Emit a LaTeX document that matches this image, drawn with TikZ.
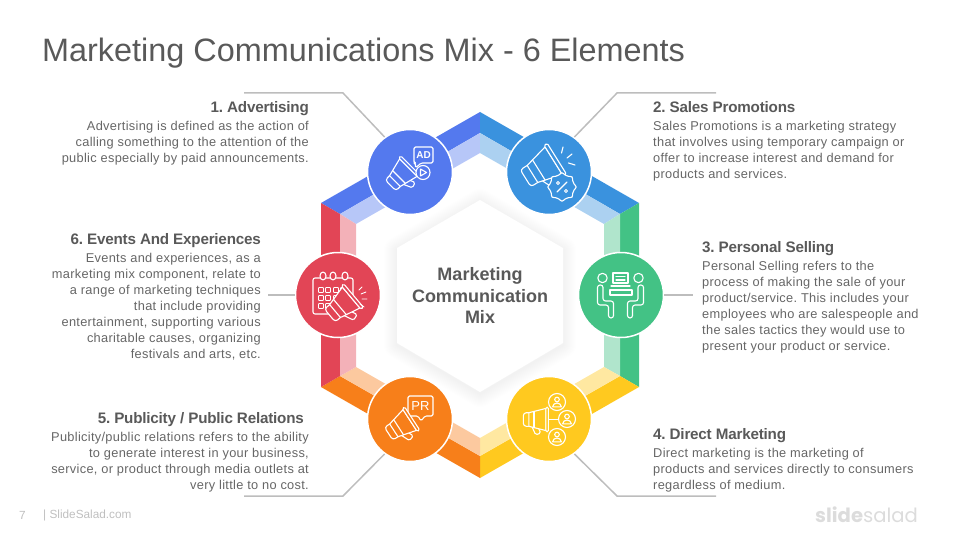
\documentclass[tikz,border=0pt]{standalone}
\usepackage{fontspec}
\setmainfont{Liberation Sans}
\newfontfamily\bodyfont[LetterSpace=2.4]{Liberation Sans}
\newfontfamily\namefont[LetterSpace=-1.3]{Liberation Sans}
\newfontfamily\logofont{Poppins}
\usetikzlibrary{positioning}
\definecolor{inkgray}{HTML}{595959}
\definecolor{bodygray}{HTML}{666666}
\definecolor{leadergray}{HTML}{BDBDBD}
\definecolor{footgray}{HTML}{BFBFBF}
\definecolor{logogray}{HTML}{DCDCDC}
\definecolor{advertblue}{HTML}{5479EE}
\definecolor{salesblue}{HTML}{3A92DE}
\definecolor{sellgreen}{HTML}{43C285}
\definecolor{directyellow}{HTML}{FFC91F}
\definecolor{publicorange}{HTML}{F77F1A}
\definecolor{eventred}{HTML}{E24556}
\frenchspacing
\tikzset{
	badge/.style={circle,draw=white,line width=1.5pt,minimum size=85pt,inner sep=0pt},
	leader/.style={draw=leadergray,line width=1.5pt},
	iconline/.style={draw=white,line width=1.1pt,line join=round,line cap=round},
	icontext/.style={text=white,inner sep=0pt,font=\bfseries\fontsize{10}{10}\selectfont},
	nameright/.style={anchor=east,inner sep=0pt,text=inkgray,text height=12pt,text depth=3pt,font=\namefont\bfseries\fontsize{15.2}{19}\selectfont},
	nameleft/.style={anchor=west,inner sep=0pt,text=inkgray,text height=12pt,text depth=3pt,font=\namefont\bfseries\fontsize{15.2}{19}\selectfont},
	bodyright/.style={align=right,inner sep=0pt,text=bodygray,font=\bodyfont\fontsize{12.8}{16}\selectfont},
	bodyleft/.style={align=left,inner sep=0pt,text=bodygray,font=\bodyfont\fontsize{12.8}{16}\selectfont},
	horn/.pic={
		\draw[iconline,pic actions,rounded corners=1.5pt] (-6,7) -- (-1,18) -- (5,16) -- (1,7);
		\draw[iconline,pic actions,rounded corners=3pt] (-9,-8) -- (-15.5,-8) -- (-15.5,8) -- (-9,8);
		\draw[iconline,pic actions] (-9,-8) -- (11,-13) -- (11,13) -- (-9,8) -- cycle;
		\draw[iconline] (-3,-9.5) -- (-3,9.5);
		\draw[iconline,pic actions,rounded corners=1.4pt] (11,-14.5) rectangle (14,14.5);
	},
	sitter/.pic={
		\draw[iconline,rounded corners=2.5pt] (-18,-10) -- (-23.5,-10) -- (-23.5,10) -- (-12.5,10) -- (-12.5,23) -- (-7.5,23) -- (-7.5,6) -- (-18,6) -- cycle;
		\draw[iconline] (-18.5,-17) circle (4.7);
	},
	contact/.pic={
		\draw[iconline] (0,0) circle (8.5);
		\draw[iconline] (0,-2.5) circle (2.3);
		\draw[iconline] (-4.3,4.8) arc (180:360:4.3 and 3.8) -- cycle;
	}
}
\begin{document}
\begin{tikzpicture}[x=1pt,y=-1pt]
	\useasboundingbox (0,0) rectangle (960,540);
	\node[anchor=west,inner sep=0pt,text=inkgray,font=\fontsize{32.4}{36}\selectfont] (title) at (42,53) {Marketing Communications Mix - 6 Elements};

	% hexagon ring, outer / middle / inner corners
	\foreach \n/\a/\b/\c/\d/\e/\f in {1/480/112/480/133/480/153,2/639/203/620/214/604/224,3/639/387/620/376/604/367,4/480/478/480/456/480/438,5/321/387/340/376/356/367,6/321/203/340/214/356/224}{
		\coordinate (o\n) at (\a,\b);
		\coordinate (m\n) at (\c,\d);
		\coordinate (i\n) at (\e,\f);
	}
	\foreach \i/\j/\col in {6/1/advertblue,1/2/salesblue,2/3/sellgreen,3/4/directyellow,4/5/publicorange,5/6/eventred}{
		\fill[\col] (o\i) -- (o\j) -- (m\j) -- (m\i) -- cycle;
		\fill[\col!42!white] (m\i) -- (m\j) -- (i\j) -- (i\i) -- cycle;
	}

	% centre hexagon
	\foreach \w in {2,4,...,26}
		\draw[black,opacity=.005,line width=\w pt,line join=round] (480,202) -- (563,250) -- (563,345) -- (480,394) -- (397,345) -- (397,250) -- cycle;
	\fill[white] (480,200) -- (563,248) -- (563,343) -- (480,392) -- (397,343) -- (397,248) -- cycle;
	\node[align=center,inner sep=0pt,text=inkgray,font=\bfseries\fontsize{18}{21.5}\selectfont] (centre) at (480,295.5) {Marketing\\Communication\\Mix};

	\node[badge,fill=advertblue] (advert) at (410,172) {};
	\node[badge,fill=salesblue] (sales) at (549,172) {};
	\node[badge,fill=sellgreen] (selling) at (621,295) {};
	\node[badge,fill=directyellow] (direct) at (549,419) {};
	\node[badge,fill=publicorange] (public) at (410,419) {};
	\node[badge,fill=eventred] (events) at (338,295) {};

	% leaders
	\coordinate (advertend) at (244,93); \coordinate (advertknee) at (343,93);
	\draw[leader] (advertend) -- (advertknee) -- (advert.126);
	\coordinate (salesend) at (716,93); \coordinate (salesknee) at (617,93);
	\draw[leader] (salesend) -- (salesknee) -- (sales.54);
	\coordinate (sellingend) at (693,295);
	\draw[leader] (selling) -- (sellingend);
	\coordinate (directend) at (716,496); \coordinate (directknee) at (617,496);
	\draw[leader] (directend) -- (directknee) -- (direct.-54);
	\coordinate (publicend) at (244,496); \coordinate (publicknee) at (343,496);
	\draw[leader] (publicend) -- (publicknee) -- (public.-126);
	\coordinate (eventsend) at (268,295);
	\draw[leader] (events) -- (eventsend);

	% advertising icon
	\draw[iconline,rounded corners=1.5pt] (414,147) -- (433,147) -- (433,163) -- (421,163) -- (415.5,168) -- (415.5,163) -- (414,163) -- cycle;
	\node[icontext] (adtag) at (423.5,155) {AD};
	\pic[rotate=45,scale=.95,fill=advertblue] at (401,175) {horn};
	\draw[iconline,fill=advertblue] (423,172.5) circle (7);
	\draw[iconline] (420.5,169) -- (420.5,176) -- (426.5,172.5) -- cycle;

	% sales icon
	\pic[rotate=32,scale=1.25,fill=salesblue] at (542,168) {horn};
	\draw[iconline] (563,147) -- (561.5,153) (572,154) -- (567,158) (575,165) -- (568.5,163);
	\draw[iconline,fill=salesblue,shift={(562,187)}] plot[domain=0:345,samples=24,smooth cycle] (\x:{13+1.2*cos(8*\x)});
	\draw[iconline] (557,192) -- (567,182);
	\draw[iconline,line width=.9pt] (558,183) circle (1.5) (566,191) circle (1.5);

	% selling icon
	\pic at (621,295) {sitter};
	\pic[xscale=-1] at (620,295) {sitter};
	\draw[iconline] (613,273) rectangle (628,283) (616,276.5) -- (625,276.5) (616,280) -- (625,280) (611,286) -- (630,286);
	\draw[iconline] (610,290) rectangle (632,295);

	% direct icon
	\pic[scale=.85,fill=directyellow] at (536.5,419.5) {horn};
	\draw[iconline] (549,419.5) -- (558.5,419.5);
	\pic at (557,402) {contact};
	\pic at (567,419) {contact};
	\pic at (557,437) {contact};

	% public icon
	\draw[iconline,rounded corners=1.5pt] (408,396) -- (433,396) -- (433,416) -- (425,416) -- (421,421) -- (418,416) -- (408,416) -- cycle;
	\node[icontext,font=\fontsize{13}{13}\selectfont] (prtag) at (420.5,406.5) {PR};
	\pic[rotate=33,scale=.95,fill=publicorange] at (401,425.7) {horn};

	% events icon
	\draw[iconline,rounded corners=2pt] (313,278) rectangle (353,314);
	\foreach \x in {323,333,345}
		\draw[iconline,fill=eventred] (\x,276) ellipse (3 and 4);
	\foreach \y in {290,298,306} \foreach \x in {321,328,336,343}
		\draw[iconline,line width=.9pt,rounded corners=.8pt] (\x-2.5,\y-2.5) rectangle (\x+2.5,\y+2.5);
	\pic[rotate=40,scale=1.05,fill=eventred] at (342.3,305) {horn};
	\draw[iconline,line width=.9pt] (359,290) -- (362,287) (361,294) -- (366,292) (362,299) -- (367,299) (360,304) -- (364,307);

	% texts on the left
	\node[nameright] (advertname) at (309,108) {1. Advertising};
	\node[bodyright,below left=5pt and 0pt of advertname.south east] (advertbody) {Advertising is defined as the action of\\calling something to the attention of the\\public especially by paid announcements.};
	\node[nameright] (eventsname) at (261,240) {6. Events And Experiences};
	\node[bodyright,below left=5pt and 0pt of eventsname.south east] (eventsbody) {Events and experiences, as a\\marketing mix component, relate to\\a range of marketing techniques\\that include providing\\entertainment, supporting various\\charitable causes, organizing\\festivals and arts, etc.\hspace{3pt}};
	\node[nameright] (publicname) at (304,419) {5. Publicity / Public Relations};
	\node[bodyright,below left=5pt and -5pt of publicname.south east] (publicbody) {Publicity/public relations refers to the ability\\to generate interest in your business,\\service, or product through media outlets at\\very little to no cost.};

	% texts on the right
	\node[nameleft] (salesname) at (653,108) {2. Sales Promotions};
	\node[bodyleft,below right=5pt and 0pt of salesname.south west] (salesbody) {Sales Promotions is a marketing strategy\\that involves using temporary campaign or\\offer to increase interest and demand for\\products and services.};
	\node[nameleft] (sellingname) at (702,248) {3. Personal Selling};
	\node[bodyleft,below right=5pt and 0pt of sellingname.south west] (sellingbody) {Personal Selling refers to the\\process of making the sale of your\\product/service. This includes your\\employees who are salespeople and\\the sales tactics they would use to\\present your product or service.};
	\node[nameleft] (directname) at (653,435) {4. Direct Marketing};
	\node[bodyleft,below right=5pt and 0pt of directname.south west] (directbody) {Direct marketing is the marketing of\\products and services directly to consumers\\regardless of medium.};

	% footer
	\node[anchor=west,inner sep=0pt,text=footgray,font=\fontsize{11.8}{14}\selectfont] (pagenum) at (19,515) {7};
	\node[anchor=west,inner sep=0pt,text=footgray,font=\fontsize{11.8}{14}\selectfont] (sitename) at (43,515) {| SlideSalad.com};
	\node[anchor=west,inner sep=0pt,text=logogray,font=\logofont\fontsize{19.6}{24}\selectfont] (logo) at (815,515) {\textbf{slide}salad};
\end{tikzpicture}
\end{document}
